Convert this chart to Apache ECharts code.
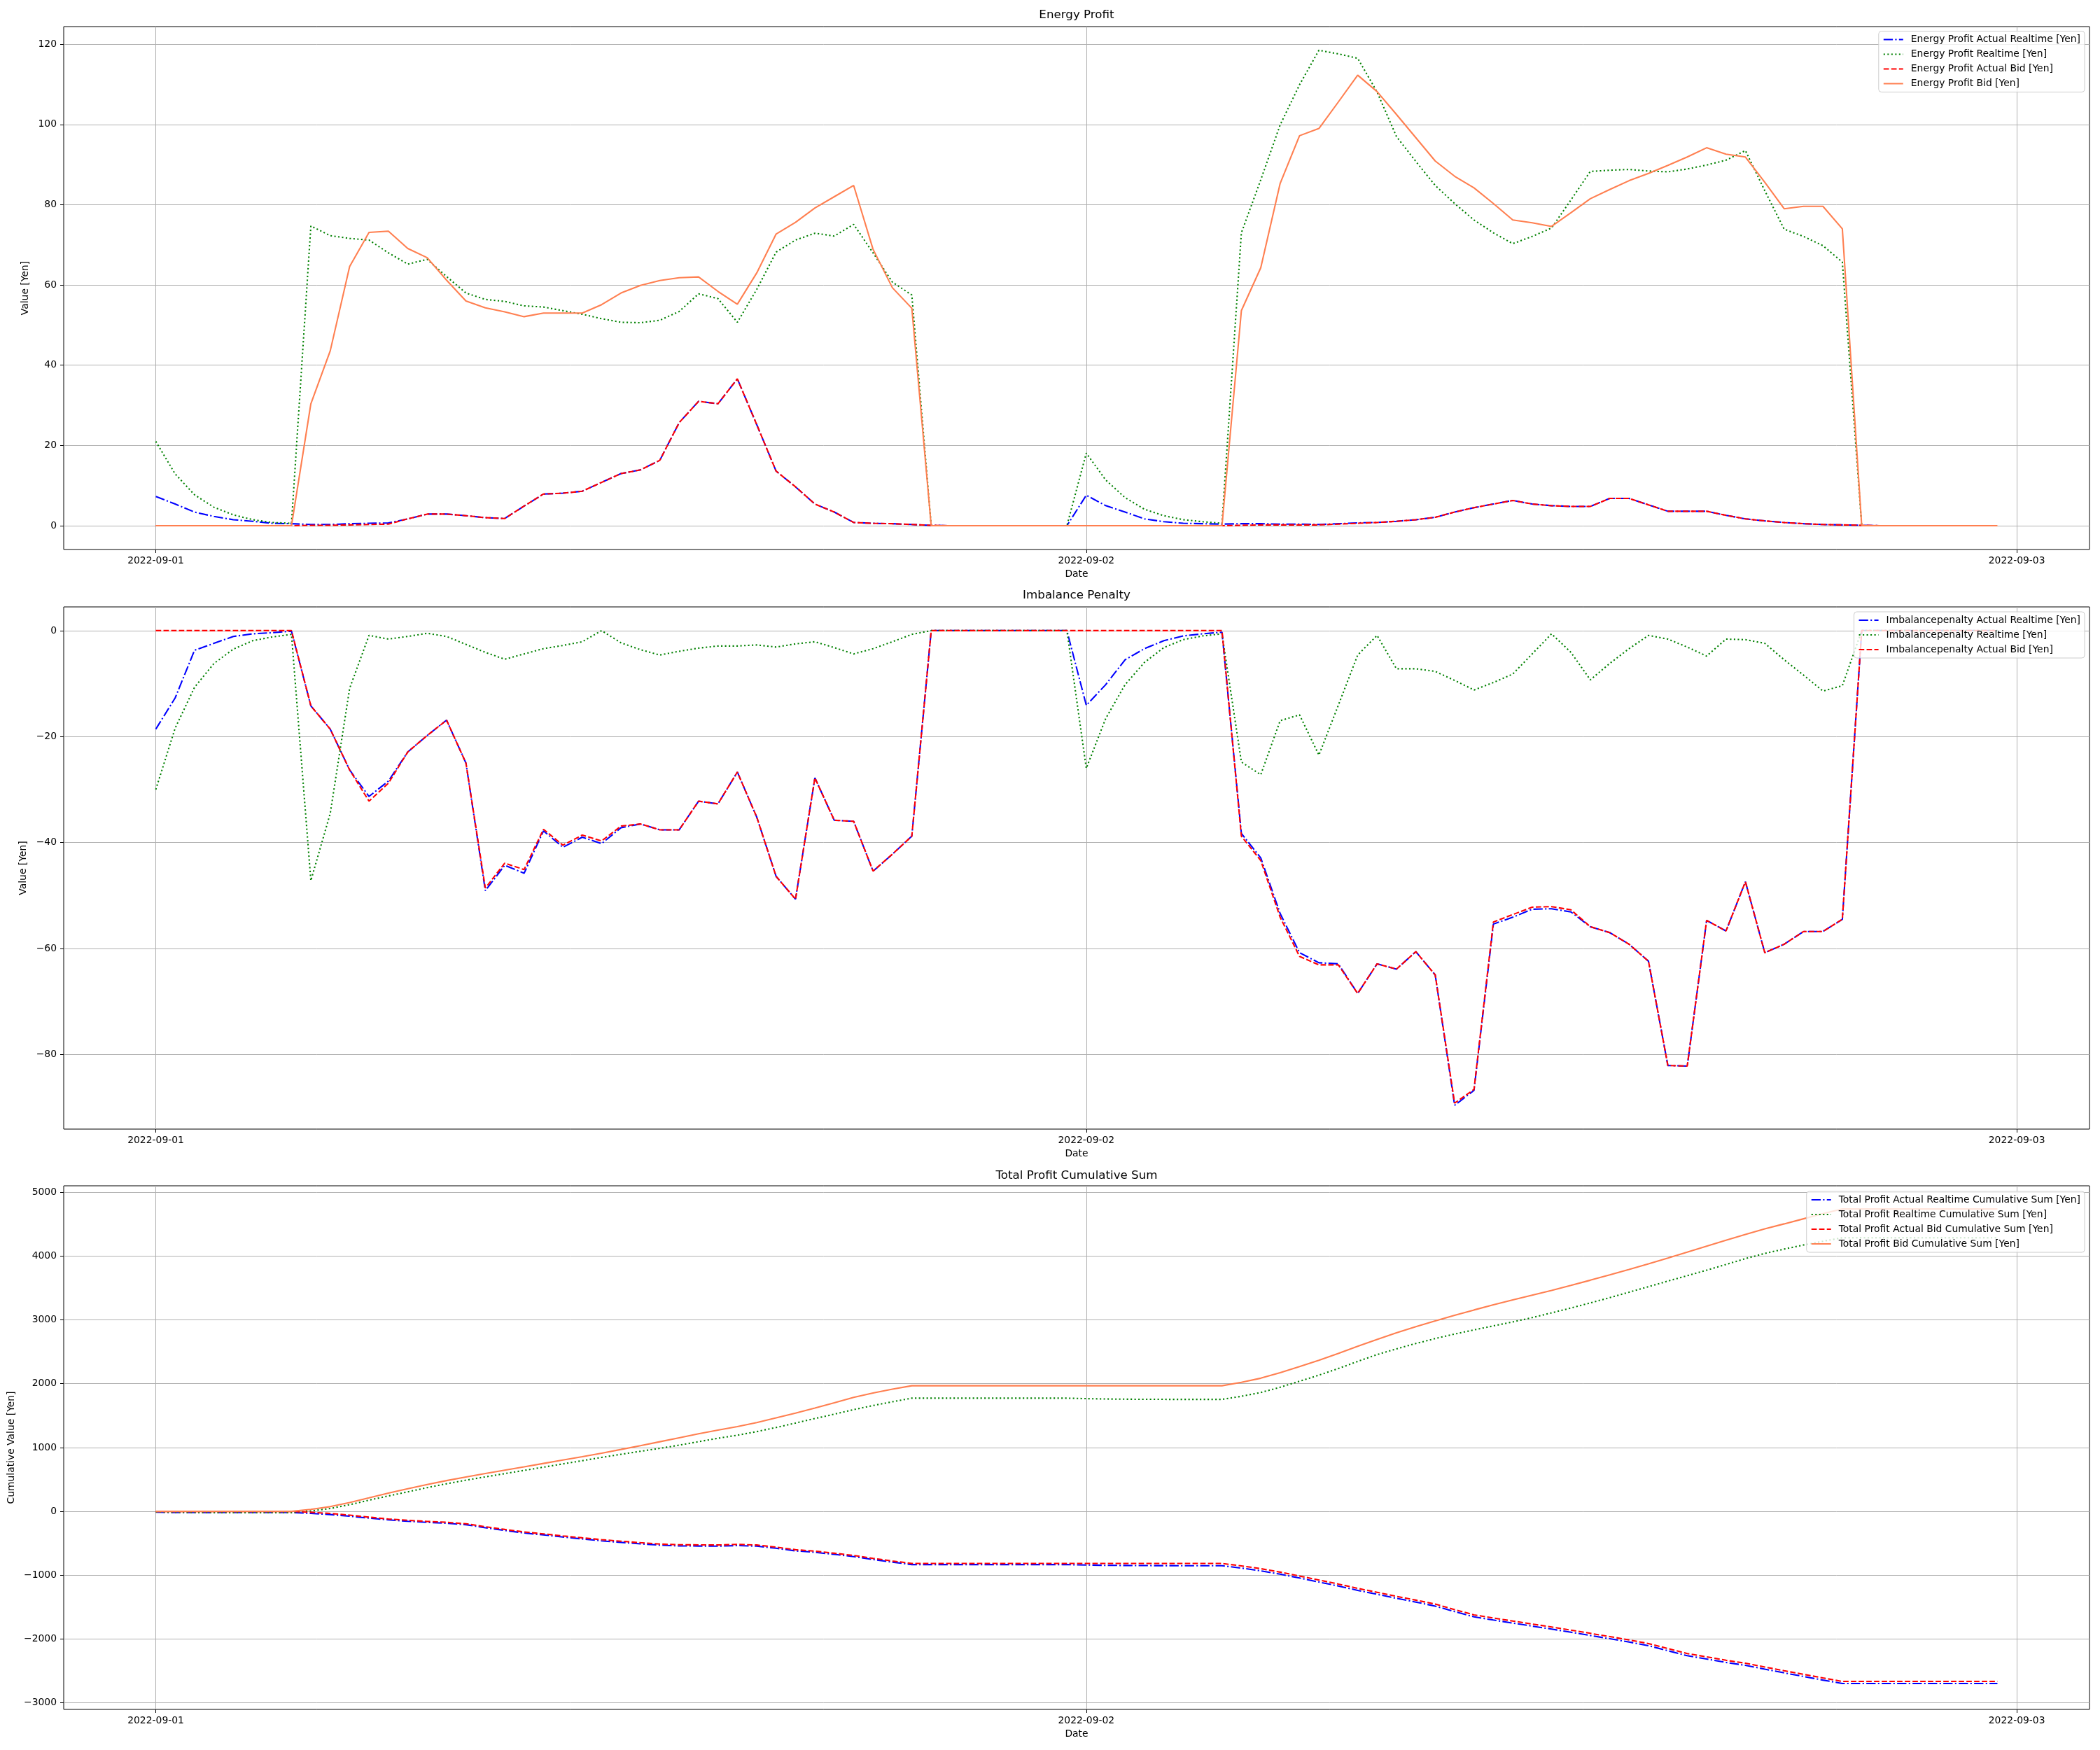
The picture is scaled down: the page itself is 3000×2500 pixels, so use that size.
<!DOCTYPE html>
<html>
<head>
<meta charset="utf-8">
<title>Energy Profit</title>
<script src="https://cdn.jsdelivr.net/npm/echarts@6/dist/echarts.min.js"></script>
<style>
  html, body { margin: 0; padding: 0; background: #fff; }
  #chart { width: 3000px; height: 2500px; }
</style>
</head>
<body>
<div id="chart"></div>
<script>
// half-hour slots from 2022-09-01 00:00 to 2022-09-02 23:30, as hours from start
const hours = []
for (let i = 0; i < 96; i++) hours.push(i * 0.5)

const dateTicks = [0, 24, 48]
const dateLabels = ['2022-09-01', '2022-09-02', '2022-09-03']
const energyTicks = [0, 20, 40, 60, 80, 100, 120]
const imbalanceTicks = [-80, -60, -40, -20, 0]
const cumTicks = [-3000, -2000, -1000, 0, 1000, 2000, 3000, 4000, 5000]

const energyActualRealtime = [
  7.3, 5.4, 3.4, 2.3, 1.5, 1.1, 0.6, 0.5,
  0.3, 0.3, 0.5, 0.6, 0.7, 1.7, 2.9, 2.9,
  2.5, 2.0, 1.8, 4.9, 7.9, 8.1, 8.6, 10.8,
  13.0, 13.9, 16.3, 25.7, 31.0, 30.4, 36.6, 25.2,
  13.6, 9.7, 5.4, 3.4, 0.8, 0.6, 0.5, 0.3,
  0.1, 0, 0, 0, 0, 0, 0, 0,
  7.6, 5.0, 3.4, 1.7, 1.0, 0.6, 0.5, 0.4,
  0.5, 0.5, 0.4, 0.4, 0.3, 0.5, 0.7, 0.8,
  1.1, 1.5, 2.1, 3.4, 4.5, 5.4, 6.3, 5.4,
  5.0, 4.8, 4.8, 6.8, 6.8, 5.2, 3.6, 3.6,
  3.6, 2.6, 1.7, 1.2, 0.8, 0.5, 0.3, 0.2,
  0.1, 0, 0, 0, 0, 0, 0, 0
]
const energyRealtime = [
  21.0, 12.9, 7.7, 4.6, 2.7, 1.5, 0.8, 0.6,
  74.7, 72.3, 71.6, 71.2, 68.0, 65.2, 66.4, 62.1,
  58.0, 56.4, 55.9, 54.8, 54.5, 53.6, 52.7, 51.6,
  50.7, 50.6, 51.2, 53.4, 57.8, 56.6, 50.7, 58.9,
  68.2, 71.2, 72.9, 72.2, 75.1, 68.0, 60.7, 57.5,
  0, 0, 0, 0, 0, 0, 0, 0,
  18.1, 11.4, 7.0, 4.1, 2.5, 1.5, 1.0, 0.6,
  73.0, 86.2, 99.9, 109.9, 118.5, 117.6, 116.5, 108.1,
  97.0, 90.8, 84.8, 80.3, 76.2, 73.0, 70.3, 72.1,
  74.2, 81.2, 88.3, 88.6, 88.8, 88.4, 88.2, 88.9,
  89.9, 91.1, 93.5, 83.5, 73.9, 72.1, 69.8, 65.7,
  0, 0, 0, 0, 0, 0, 0, 0
]
const energyActualBid = [
  0, 0, 0, 0, 0, 0, 0, 0,
  0.1, 0.1, 0.2, 0.3, 0.4, 1.7, 2.9, 2.9,
  2.5, 2.0, 1.8, 4.9, 7.9, 8.1, 8.6, 10.8,
  13.0, 13.9, 16.3, 25.7, 31.0, 30.4, 36.6, 25.2,
  13.6, 9.7, 5.4, 3.4, 0.8, 0.6, 0.5, 0.3,
  0.1, 0, 0, 0, 0, 0, 0, 0,
  0, 0, 0, 0, 0, 0, 0, 0,
  0.1, 0.2, 0.2, 0.2, 0.2, 0.4, 0.6, 0.8,
  1.1, 1.5, 2.1, 3.4, 4.5, 5.4, 6.3, 5.4,
  5.0, 4.8, 4.8, 6.8, 6.8, 5.2, 3.6, 3.6,
  3.6, 2.6, 1.7, 1.2, 0.8, 0.5, 0.3, 0.2,
  0.1, 0, 0, 0, 0, 0, 0, 0
]
const energyBid = [
  0, 0, 0, 0, 0, 0, 0, 0,
  30.4, 43.6, 64.6, 73.1, 73.4, 69.1, 66.8, 61.2,
  56.0, 54.3, 53.3, 52.1, 53.0, 53.0, 53.0, 55.1,
  58.0, 59.9, 61.1, 61.8, 62.0, 58.4, 55.2, 63.0,
  72.7, 75.6, 79.2, 82.0, 84.8, 68.9, 59.3, 54.2,
  0, 0, 0, 0, 0, 0, 0, 0,
  0, 0, 0, 0, 0, 0, 0, 0,
  53.6, 64.3, 85.3, 97.2, 99.0, 105.6, 112.3, 108.2,
  102.5, 96.7, 90.9, 87.1, 84.2, 80.3, 76.2, 75.5,
  74.6, 78.0, 81.5, 83.8, 86.0, 87.8, 89.8, 91.9,
  94.2, 92.6, 91.9, 85.6, 79.0, 79.6, 79.6, 74.0,
  0, 0, 0, 0, 0, 0, 0, 0
]

const imbalanceActualRealtime = [
  -18.6, -12.7, -3.7, -2.4, -1.1, -0.6, -0.4, -0.1,
  -14.2, -18.6, -26.3, -31.3, -28.4, -22.9, -19.8, -16.9,
  -25.0, -49.1, -44.3, -45.8, -37.8, -40.9, -39.0, -40.2,
  -37.2, -36.5, -37.6, -37.6, -32.2, -32.7, -26.7, -35.2,
  -46.4, -50.7, -27.8, -35.8, -36.0, -45.4, -42.2, -38.8,
  0, 0, 0, 0, 0, 0, 0, 0,
  -14.1, -10.2, -5.5, -3.4, -1.9, -1.0, -0.6, -0.3,
  -38.3, -42.9, -53.4, -60.8, -62.7, -62.9, -68.5, -62.9,
  -63.9, -60.6, -65.0, -89.6, -86.8, -55.4, -54.1, -52.6,
  -52.5, -53.1, -55.9, -57.0, -59.2, -62.4, -82.1, -82.2,
  -54.7, -56.7, -47.4, -60.8, -59.2, -56.8, -56.8, -54.5,
  0, 0, 0, 0, 0, 0, 0, 0
]
const imbalanceRealtime = [
  -30.0, -18.4, -10.7, -6.2, -3.5, -1.9, -1.2, -0.7,
  -47.2, -34.5, -10.9, -0.9, -1.6, -1.1, -0.5, -1.1,
  -2.6, -4.1, -5.4, -4.4, -3.4, -2.8, -2.1, 0,
  -2.3, -3.6, -4.6, -3.9, -3.3, -2.9, -2.9, -2.7,
  -3.1, -2.5, -2.1, -3.2, -4.4, -3.4, -2.1, -0.7,
  0, 0, 0, 0, 0, 0, 0, 0,
  -26.0, -16.6, -10.2, -6.0, -3.2, -1.7, -1.0, -0.6,
  -24.8, -27.2, -17.0, -15.9, -23.5, -14.1, -4.6, -0.9,
  -7.2, -7.2, -7.7, -9.4, -11.2, -9.8, -8.2, -4.4,
  -0.6, -4.1, -9.3, -6.2, -3.4, -0.9, -1.6, -3.1,
  -4.8, -1.6, -1.7, -2.4, -5.5, -8.4, -11.4, -10.4,
  0, 0, 0, 0, 0, 0, 0, 0
]
const imbalanceActualBid = [
  0, 0, 0, 0, 0, 0, 0, 0,
  -14.2, -18.6, -26.3, -32.2, -28.8, -22.9, -19.8, -16.9,
  -25.0, -48.6, -43.9, -45.1, -37.5, -40.5, -38.6, -39.7,
  -36.9, -36.5, -37.6, -37.6, -32.2, -32.7, -26.7, -35.2,
  -46.4, -50.7, -27.8, -35.8, -36.0, -45.4, -42.2, -38.8,
  0, 0, 0, 0, 0, 0, 0, 0,
  0, 0, 0, 0, 0, 0, 0, 0,
  -38.8, -43.4, -54.1, -61.5, -63.1, -63.1, -68.5, -62.9,
  -63.9, -60.6, -65.0, -89.2, -86.6, -55.0, -53.6, -52.2,
  -52.1, -52.7, -55.9, -57.0, -59.2, -62.4, -82.1, -82.2,
  -54.7, -56.7, -47.4, -60.8, -59.2, -56.8, -56.8, -54.5,
  0, 0, 0, 0, 0, 0, 0, 0
]

const cumActualRealtime = [
  -11.3, -18.6, -18.9, -19.0, -18.6, -18.1, -17.9, -17.5,
  -31.4, -49.7, -75.5, -106.2, -133.9, -155.1, -172.0, -186.0,
  -208.5, -255.6, -298.1, -339.0, -368.9, -401.7, -432.1, -461.5,
  -485.7, -508.3, -529.6, -541.5, -542.7, -545.0, -535.1, -545.1,
  -577.9, -618.9, -641.3, -673.7, -708.9, -753.7, -795.4, -833.9,
  -833.8, -833.8, -833.8, -833.8, -833.8, -833.8, -833.8, -833.8,
  -840.3, -845.5, -847.6, -849.3, -850.2, -850.6, -850.7, -850.6,
  -888.4, -930.8, -983.8, -1044.2, -1106.6, -1169.0, -1236.8, -1298.9,
  -1361.7, -1420.8, -1483.7, -1569.9, -1652.2, -1702.2, -1750.0, -1797.2,
  -1844.7, -1893.0, -1944.1, -1994.3, -2046.7, -2103.9, -2182.4, -2261.0,
  -2312.1, -2366.2, -2411.9, -2471.5, -2529.9, -2586.2, -2642.7, -2697.0,
  -2696.9, -2696.9, -2696.9, -2696.9, -2696.9, -2696.9, -2696.9, -2696.9
]
const cumRealtime = [
  -9.0, -14.5, -17.5, -19.1, -19.9, -20.3, -20.7, -20.8,
  6.7, 44.5, 105.2, 175.5, 241.9, 306.0, 371.9, 432.9,
  488.3, 540.6, 591.1, 641.5, 692.6, 743.4, 794.0, 845.6,
  894.0, 941.0, 987.6, 1037.1, 1091.6, 1145.3, 1193.1, 1249.3,
  1314.4, 1383.1, 1453.9, 1522.9, 1593.6, 1658.2, 1716.8, 1773.6,
  1773.6, 1773.6, 1773.6, 1773.6, 1773.6, 1773.6, 1773.6, 1773.6,
  1765.7, 1760.5, 1757.3, 1755.4, 1754.7, 1754.5, 1754.5, 1754.5,
  1802.7, 1861.7, 1944.6, 2038.6, 2133.6, 2237.1, 2349.0, 2456.2,
  2546.0, 2629.6, 2706.7, 2777.6, 2842.6, 2905.8, 2967.9, 3035.6,
  3109.2, 3186.3, 3265.3, 3347.7, 3433.1, 3520.6, 3607.2, 3693.0,
  3778.1, 3867.6, 3959.4, 4040.5, 4108.9, 4172.6, 4231.0, 4286.3,
  4286.3, 4286.3, 4286.3, 4286.3, 4286.3, 4286.3, 4286.3, 4286.3
]
const cumActualBid = [
  0, 0, 0, 0, 0, 0, 0, 0,
  -14.1, -32.6, -58.7, -90.6, -119.0, -140.2, -157.1, -171.1,
  -193.6, -240.2, -282.3, -322.5, -352.1, -384.5, -414.5, -443.4,
  -467.3, -489.9, -511.2, -523.1, -524.3, -526.6, -516.7, -526.7,
  -559.5, -600.5, -622.9, -655.3, -690.5, -735.3, -777.0, -815.5,
  -815.4, -815.4, -815.4, -815.4, -815.4, -815.4, -815.4, -815.4,
  -815.4, -815.4, -815.4, -815.4, -815.4, -815.4, -815.4, -815.4,
  -854.1, -897.3, -951.2, -1012.5, -1075.4, -1138.1, -1206.0, -1268.1,
  -1330.9, -1390.0, -1452.9, -1538.7, -1620.8, -1670.4, -1717.7, -1764.5,
  -1811.6, -1859.5, -1910.6, -1960.8, -2013.2, -2070.4, -2148.9, -2227.5,
  -2278.6, -2332.7, -2378.4, -2438.0, -2496.4, -2552.7, -2609.2, -2663.5,
  -2663.4, -2663.4, -2663.4, -2663.4, -2663.4, -2663.4, -2663.4, -2663.4
]
const cumBid = [
  0, 0, 0, 0, 0, 0, 0, 0,
  30.4, 74.0, 138.6, 211.7, 285.1, 354.2, 421.0, 482.2,
  538.2, 592.5, 645.8, 697.9, 750.9, 803.9, 856.9, 912.0,
  970.0, 1029.9, 1091.0, 1152.8, 1214.8, 1273.2, 1328.4, 1391.4,
  1464.1, 1539.7, 1618.9, 1700.9, 1785.7, 1854.6, 1913.9, 1968.1,
  1968.1, 1968.1, 1968.1, 1968.1, 1968.1, 1968.1, 1968.1, 1968.1,
  1968.1, 1968.1, 1968.1, 1968.1, 1968.1, 1968.1, 1968.1, 1968.1,
  2021.7, 2086.0, 2171.3, 2268.5, 2367.5, 2473.1, 2585.4, 2693.6,
  2796.1, 2892.8, 2983.7, 3070.8, 3155.0, 3235.3, 3311.5, 3387.0,
  3461.6, 3539.6, 3621.1, 3704.9, 3790.9, 3878.7, 3968.5, 4060.4,
  4154.6, 4247.2, 4339.1, 4424.7, 4503.7, 4583.3, 4662.9, 4736.9,
  4736.9, 4736.9, 4736.9, 4736.9, 4736.9, 4736.9, 4736.9, 4736.9
]

const FONT = 'DejaVu Sans'
const BLUE = '#0000ff'
const GREEN = '#008000'
const RED = '#ff0000'
const CORAL = '#ff7f50'
// matplotlib dash patterns for a 1.5pt line, in px
const DASHDOT = [13.3, 3.3, 2.1, 3.3]
const DASHED = [7.7, 3.3]
const DOTTED = [2.1, 3.4]

function minus(v) {
  return v < 0 ? '\u2212' + Math.abs(v) : String(v)
}

function xAxis(gridIndex) {
  return {
    type: 'value',
    gridIndex: gridIndex,
    min: -2.375,
    max: 49.875,
    axisLine: { show: false, onZero: false },
    axisTick: { show: true, length: 5, customValues: dateTicks, lineStyle: { color: '#000', width: 1 } },
    axisLabel: {
      customValues: dateTicks,
      formatter: v => dateLabels[dateTicks.indexOf(v)],
      margin: 9,
      color: '#000',
      fontSize: 13.9,
      fontFamily: FONT
    },
    splitLine: { show: true, lineStyle: { color: '#b0b0b0', width: 1 } },
    name: 'Date',
    nameLocation: 'middle',
    nameGap: 28,
    nameTextStyle: { color: '#000', fontSize: 13.9, fontFamily: FONT }
  }
}

function yAxis(gridIndex, min, max, ticks, name, nameGap) {
  return {
    type: 'value',
    gridIndex: gridIndex,
    min: min,
    max: max,
    axisLine: { show: false, onZero: false },
    axisTick: { show: true, length: 5, customValues: ticks, lineStyle: { color: '#000', width: 1 } },
    axisLabel: {
      customValues: ticks,
      formatter: minus,
      margin: 10,
      color: '#000',
      fontSize: 13.9,
      fontFamily: FONT
    },
    splitLine: { show: true, lineStyle: { color: '#b0b0b0', width: 1 } },
    name: name,
    nameLocation: 'middle',
    nameGap: nameGap,
    nameRotate: 90,
    nameTextStyle: { color: '#000', fontSize: 13.9, fontFamily: FONT }
  }
}

function line(name, axis, values, color, dash) {
  return {
    name: name,
    type: 'line',
    xAxisIndex: axis,
    yAxisIndex: axis,
    data: hours.map((h, i) => [h, values[i]]),
    symbol: 'none',
    showSymbol: false,
    silent: true,
    itemStyle: { color: color },
    lineStyle: { color: color, width: 2.08, type: dash },
    emphasis: { disabled: true }
  }
}

function legend(top, names) {
  return {
    orient: 'vertical',
    right: 22,
    top: top,
    align: 'left',
    itemWidth: 28,
    itemHeight: 14,
    itemGap: 7,
    padding: [5, 6],
    backgroundColor: 'rgba(255,255,255,0.8)',
    borderColor: '#cccccc',
    borderWidth: 1,
    borderRadius: 4,
    itemStyle: { opacity: 0 },
    textStyle: { color: '#000', fontSize: 13.9, fontFamily: FONT, padding: [0, 0, 0, 6] },
    data: names
  }
}

function title(text, top) {
  return {
    text: text,
    left: 1538,
    top: top,
    textAlign: 'center',
    padding: 0,
    textStyle: { color: '#000', fontSize: 16.7, fontWeight: 'normal', fontFamily: FONT }
  }
}

const energyNames = ['Energy Profit Actual Realtime [Yen]', 'Energy Profit Realtime [Yen]', 'Energy Profit Actual Bid [Yen]', 'Energy Profit Bid [Yen]']
const imbalanceNames = ['Imbalancepenalty Actual Realtime [Yen]', 'Imbalancepenalty Realtime [Yen]', 'Imbalancepenalty Actual Bid [Yen]']
const cumNames = ['Total Profit Actual Realtime Cumulative Sum [Yen]', 'Total Profit Realtime Cumulative Sum [Yen]', 'Total Profit Actual Bid Cumulative Sum [Yen]', 'Total Profit Bid Cumulative Sum [Yen]']

const chart = echarts.init(document.getElementById('chart'))
chart.setOption({
  animation: false,
  backgroundColor: '#fff',
  textStyle: { fontFamily: FONT },
  title: [
    title('Energy Profit', 13),
    title('Imbalance Penalty', 842),
    title('Total Profit Cumulative Sum', 1671)
  ],
  legend: [
    legend(44.5, energyNames),
    legend(874, imbalanceNames),
    legend(1702, cumNames)
  ],
  grid: [
    { left: 91, right: 15, top: 38, height: 747, show: true, borderColor: '#000', borderWidth: 1 },
    { left: 91, right: 15, top: 867, height: 746, show: true, borderColor: '#000', borderWidth: 1 },
    { left: 91, right: 15, top: 1694, height: 748, show: true, borderColor: '#000', borderWidth: 1 }
  ],
  xAxis: [xAxis(0), xAxis(1), xAxis(2)],
  yAxis: [
    yAxis(0, -5.93, 124.4, energyTicks, 'Value [Yen]', 35),
    yAxis(1, -94.1, 4.48, imbalanceTicks, 'Value [Yen]', 37),
    yAxis(2, -3102, 5100, cumTicks, 'Cumulative Value [Yen]', 57)
  ],
  series: [
    line(energyNames[0], 0, energyActualRealtime, BLUE, DASHDOT),
    line(energyNames[1], 0, energyRealtime, GREEN, DOTTED),
    line(energyNames[2], 0, energyActualBid, RED, DASHED),
    line(energyNames[3], 0, energyBid, CORAL, 'solid'),
    line(imbalanceNames[0], 1, imbalanceActualRealtime, BLUE, DASHDOT),
    line(imbalanceNames[1], 1, imbalanceRealtime, GREEN, DOTTED),
    line(imbalanceNames[2], 1, imbalanceActualBid, RED, DASHED),
    line(cumNames[0], 2, cumActualRealtime, BLUE, DASHDOT),
    line(cumNames[1], 2, cumRealtime, GREEN, DOTTED),
    line(cumNames[2], 2, cumActualBid, RED, DASHED),
    line(cumNames[3], 2, cumBid, CORAL, 'solid')
  ]
})
</script>
</body>
</html>
